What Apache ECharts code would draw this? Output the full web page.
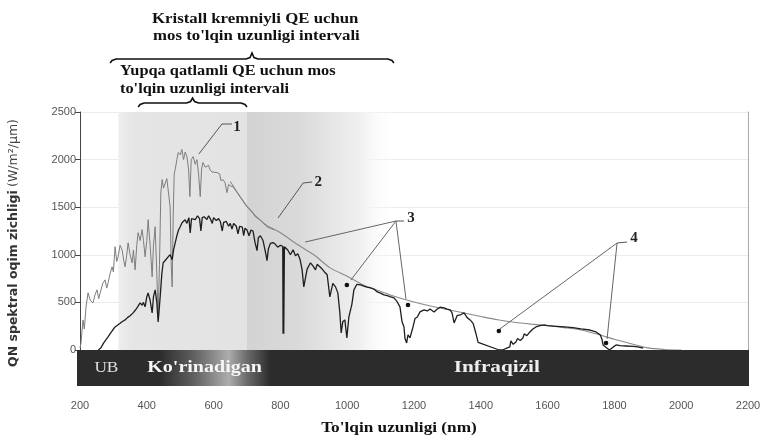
<!DOCTYPE html>
<html>
<head>
<meta charset="utf-8">
<script src="https://cdn.jsdelivr.net/npm/echarts@6/dist/echarts.min.js"></script>
<style>
html,body{margin:0;padding:0;background:#fff;}
#c{width:764px;height:438px;}
</style>
</head>
<body>
<div id="c"></div>
<script>
// ---- tick labels ----
const xTicks = [200,400,600,800,1000,1200,1400,1600,1800,2000,2200];
const yTicks = [0,500,1000,1500,2000,2500];

// ---- curve 1: extraterrestrial spectrum (wavelength nm, W/m2/um) ----
const am0Nm  = [200,203,209,213,218,224,231,239,245,251,256,260,268,275,280,284,290,296,300,305,310,314,320,326,331,335,340,344,350,356,360,365,370,374,380,386,390,395,400,404,410,416,420,425,430,434,438,442,446,450,455,460,464,470,473,476,479,482,485,490,494,500,505,510,515,520,525,529,533,539,545,550,555,560,564,568,575,580,585,589,595,600,610,618,622,628,634,640,645,652,658,665,672,679,686,693,700,710,718,725,730,739,750,760,780];
const am0Val = [20,74,316,220,450,600,520,495,580,632,540,558,700,737,650,705,800,874,820,1085,930,979,1100,1053,940,874,1000,1126,1000,916,1050,842,1100,1232,1150,1264,1150,979,1150,1369,1100,768,1100,1295,800,347,900,1650,1790,1700,1716,1800,1790,1500,900,663,1400,1850,1895,2000,2074,2050,2106,2000,2080,2032,1900,1611,2000,2032,1950,2000,1850,1611,1900,1969,1920,1900,1940,1895,1870,1880,1864,1850,1780,1790,1760,1653,1740,1720,1716,1680,1650,1611,1580,1540,1506,1470,1443,1400,1380,1369,1330,1295,1262];

// ---- curve 2: smooth envelope ----
const bbNm  = [650,700,750,800,850,900,950,1000,1050,1100,1150,1200,1250,1300,1350,1400,1450,1500,1550,1600,1650,1700,1750,1800,1850,1900,1950,2000];
const bbVal = [1770,1508,1330,1232,1110,1000,860,775,680,615,555,505,462,425,388,352,318,292,272,255,235,210,165,112,66,22,6,0];

// ---- curve 3: terrestrial spectrum ----
const am15Nm  = [255,262,270,278,284,292,298,305,312,320,327,335,342,350,359,366,372,380,386,390,395,400,404,410,416,420,425,430,434,437,440,445,449,455,460,464,470,476,480,485,490,495,500,506,510,515,520,526,530,534,538,545,552,558,562,566,572,580,585,590,596,600,608,615,620,626,630,638,645,650,655,660,668,673,678,686,690,694,700,706,712,718,724,730,734,740,748,752,757,760,764,770,778,785,792,800,805,807,808,809,810,812,815,822,830,838,845,852,859,865,870,880,890,898,905,910,918,925,932,940,943,948,957,965,972,978,982,987,993,999,1005,1014,1020,1029,1040,1050,1059,1070,1080,1090,1098,1110,1120,1128,1140,1149,1158,1164,1170,1173,1178,1182,1188,1197,1203,1210,1218,1230,1240,1248,1260,1270,1278,1290,1299,1308,1314,1320,1329,1338,1350,1359,1368,1377,1385,1392,1455,1465,1478,1487,1490,1497,1505,1510,1518,1526,1530,1538,1547,1556,1565,1577,1590,1600,1628,1650,1676,1700,1727,1745,1751,1758,1763,1766,1785,1790,1796,1805,1817,1835,1856,1870,1886];
const am15Val = [0,20,70,110,137,180,210,242,260,280,300,316,340,360,390,420,450,495,470,500,453,560,600,520,390,560,632,500,295,420,558,800,916,940,960,979,1000,948,1050,1126,1200,1260,1295,1340,1320,1369,1330,1390,1230,1380,1400,1370,1410,1380,1250,1390,1400,1370,1410,1380,1330,1390,1360,1380,1350,1250,1340,1350,1300,1330,1270,1330,1300,1220,1300,1290,1200,1280,1260,1200,1260,1250,1130,1044,1180,1200,1150,1150,1000,938,1060,1120,1129,1110,1080,1100,1080,1090,170,1085,170,1085,1070,1050,1000,1053,990,1010,950,842,663,850,916,880,842,900,874,850,820,790,790,558,700,663,600,390,179,300,316,127,347,480,632,690,684,670,660,653,640,610,600,579,570,560,547,510,453,300,242,120,74,160,127,242,330,347,400,421,410,430,400,430,450,442,430,421,390,284,360,368,390,340,316,280,179,80,0,0,20,32,95,60,84,120,100,126,169,150,190,220,242,255,263,255,248,242,235,221,210,190,175,158,110,53,0,0,30,53,45,42,38,32,20,0];

// ---- region bounds (nm) ----
const visibleRange = [315, 700];
const irShadeRange = [700, 1150];
const thinFilmRange = [374, 700];
const crystalRange = [290, 1140];
const bandGlowRange = [440, 770];

const pairs = (xs, ys) => xs.map((x, i) => [x, ys[i]]);

const chart = echarts.init(document.getElementById('c'), null, {renderer: 'canvas'});
const serif = "'Liberation Serif', 'DejaVu Serif', serif";
const sans = "'Liberation Sans', Arial, sans-serif";

chart.setOption({
  animation: false,
  backgroundColor: '#ffffff',
  grid: {left: 80, right: 16, top: 112, bottom: 88, containLabel: false},
  xAxis: [
    {type: 'value', min: 200, max: 2200, interval: 200, position: 'bottom', offset: 36,
     axisLine: {show: false},
     axisTick: {show: true, length: 6, lineStyle: {color: '#777'}},
     axisLabel: {margin: 14, color: '#555', fontSize: 11, fontFamily: sans,
                 formatter: v => xTicks.includes(v) ? String(v) : ''},
     splitLine: {show: false}},
    {type: 'value', min: 200, max: 2200, position: 'top',
     axisLine: {show: true, lineStyle: {color: '#9a9a9a', type: 'dotted', width: 1.2}},
     axisTick: {show: false}, axisLabel: {show: false}, splitLine: {show: false}}
  ],
  yAxis: [
    {type: 'value', min: 0, max: 2500, interval: 500,
     axisLine: {show: true, lineStyle: {color: '#444'}},
     axisTick: {show: true, length: 5, lineStyle: {color: '#444'}},
     axisLabel: {margin: 4, color: '#555', fontSize: 11, fontFamily: sans,
                 formatter: v => yTicks.includes(v) ? String(v) : ''},
     splitLine: {show: true, lineStyle: {color: '#ececec'}}},
    {type: 'value', min: 0, max: 2500, position: 'right',
     axisLine: {show: true, lineStyle: {color: '#aaaaaa'}},
     axisTick: {show: false}, axisLabel: {show: false}, splitLine: {show: false}}
  ],
  series: [
    {name: '1', type: 'line', data: pairs(am0Nm, am0Val), showSymbol: false, symbol: 'none',
     lineStyle: {color: '#7d7d7d', width: 1}, z: 3,
     markArea: {silent: true, data: [
       [{xAxis: visibleRange[0], itemStyle: {color: {type: 'linear', x: 0, y: 0, x2: 1, y2: 0,
          colorStops: [{offset: 0, color: '#eeeeee'}, {offset: 0.12, color: '#e5e5e5'}, {offset: 1, color: '#e3e3e3'}]}}},
        {xAxis: visibleRange[1]}],
       [{xAxis: irShadeRange[0], itemStyle: {color: {type: 'linear', x: 0, y: 0, x2: 1, y2: 0,
          colorStops: [{offset: 0, color: '#d3d3d3'}, {offset: 0.35, color: '#dadada'}, {offset: 0.75, color: '#f0f0f0'}, {offset: 1, color: 'rgba(255,255,255,0)'}]}}},
        {xAxis: irShadeRange[1]}]
     ]}},
    {name: '2', type: 'line', data: pairs(bbNm, bbVal), showSymbol: false, symbol: 'none', smooth: 0.3,
     lineStyle: {color: '#8a8a8a', width: 1.1}, z: 2},
    {name: '3', type: 'line', data: pairs(am15Nm, am15Val), showSymbol: false, symbol: 'none',
     lineStyle: {color: '#1e1e1e', width: 1.3}, z: 4}
  ]
});

const P = (nm, v) => chart.convertToPixel({seriesIndex: 0}, [nm, v]);

// annotation anchors in data units
const ann = [
  {label: '1', text: [670, 2342], path: [[655, 2374], [625, 2374], [556, 2059]], dots: []},
  {label: '2', text: [913, 1765], path: [[895, 1765], [868, 1754], [793, 1387]], dots: []},
  {label: '3', text: [1191, 1387], path: [[1170, 1355], [1146, 1355]], rays: [[874, 1134], [1011, 735], [1176, 536]], dots: [[999, 683], [1182, 473]]},
  {label: '4', text: [1859, 1176], path: [[1838, 1134], [1808, 1124]], rays: [[1457, 221], [1778, 116]], dots: [[1454, 200], [1775, 74]]}
];

const g = [];
const base = P(200, 0), end = P(2200, 0);
const bandH = 36;
const gx = nm => P(nm, 0)[0];
const bx0 = base[0] - 3, bx1 = end[0] + 1;
// dark spectral band
g.push({type: 'rect', shape: {x: bx0, y: base[1], width: bx1 - bx0, height: bandH}, z: 50, style: {fill: '#2c2c2c'}});
// lighter glow over the visible part of the band
const gl0 = gx(bandGlowRange[0]), gl1 = gx(bandGlowRange[1]);
g.push({type: 'rect', shape: {x: gl0, y: base[1], width: gl1 - gl0, height: bandH}, z: 50.5,
  style: {fill: {type: 'linear', x: 0, y: 0, x2: 1, y2: 0, colorStops: [
    {offset: 0, color: 'rgba(190,190,190,0)'}, {offset: 0.3, color: 'rgba(190,190,190,0.35)'},
    {offset: 0.62, color: 'rgba(195,195,195,0.85)'}, {offset: 0.8, color: 'rgba(190,190,190,0.4)'},
    {offset: 1, color: 'rgba(190,190,190,0)'}]}}});
const bandY = base[1] + bandH / 2;
g.push({type: 'text', x: gx(279), y: bandY, z: 51, scaleX: 1.15, style: {text: 'UB', fill: '#e0e0e0', font: "15px " + serif, align: 'center', verticalAlign: 'middle'}});
g.push({type: 'text', x: gx(573), y: bandY, z: 51, scaleX: 1.18, style: {text: "Ko'rinadigan", fill: '#f6f6f6', font: "bold 17px " + serif, align: 'center', verticalAlign: 'middle'}});
g.push({type: 'text', x: gx(1448), y: bandY, z: 51, scaleX: 1.25, style: {text: 'Infraqizil', fill: '#eeeeee', font: "bold 17px " + serif, align: 'center', verticalAlign: 'middle'}});

// annotations
ann.forEach(a => {
  const t = P(a.text[0], a.text[1]);
  g.push({type: 'text', x: t[0], y: t[1], z: 60, style: {text: a.label, fill: '#222', font: "bold 15px " + serif, align: 'center', verticalAlign: 'middle'}});
  g.push({type: 'polyline', z: 60, shape: {points: a.path.map(p => P(p[0], p[1]))}, style: {stroke: '#555', lineWidth: 1, fill: null}});
  const v = a.path[a.path.length - 1];
  (a.rays || []).forEach(r => {
    const p1 = P(v[0], v[1]), p2 = P(r[0], r[1]);
    g.push({type: 'line', z: 60, shape: {x1: p1[0], y1: p1[1], x2: p2[0], y2: p2[1]}, style: {stroke: '#666', lineWidth: 1}});
  });
  a.dots.forEach(d => {
    const q = P(d[0], d[1]);
    g.push({type: 'circle', z: 61, shape: {cx: q[0], cy: q[1], r: 2.3}, style: {fill: '#111'}});
  });
});

// braces above the plot
function brace(nm1, nm2, y, tip) {
  const x1 = gx(nm1), x2 = gx(nm2), xc = (x1 + x2) / 2;
  const pts = [[x1, y + 4], [x1 + 2, y + 1.5], [x1 + 6, y], [xc - 6, y], [xc - 2, y - 1.5], [xc, y - tip],
               [xc + 2, y - 1.5], [xc + 6, y], [x2 - 6, y], [x2 - 2, y + 1.5], [x2, y + 4]];
  return {type: 'polyline', z: 60, shape: {points: pts}, style: {stroke: '#111', lineWidth: 1.6, fill: null}};
}
g.push(brace(crystalRange[0], crystalRange[1], 59, 6));
g.push(brace(thinFilmRange[0], thinFilmRange[1], 103, 5));

const topFont = "bold 15px " + serif;
const topText = (x, y, s, sx) => ({type: 'text', x: x, y: y, scaleX: sx, style: {text: s, fill: '#111', font: topFont, verticalAlign: 'middle'}});
g.push(topText(152, 19, 'Kristall kremniyli QE uchun', 1.12));
g.push(topText(153, 36, "mos to'lqin uzunligi intervali", 1.12));
g.push(topText(120, 71, 'Yupqa qatlamli QE uchun mos', 1.09));
g.push(topText(120, 89, "to'lqin uzunligi intervali", 1.09));

// axis titles
g.push({type: 'text', x: 399, y: 428, scaleX: 1.15, style: {text: "To'lqin uzunligi (nm)", fill: '#111', font: "bold 15px " + serif, align: 'center', verticalAlign: 'middle'}});
g.push({type: 'text', x: 14, y: 243, rotation: Math.PI / 2, style: {
  text: '{b|QN spektral oqim zichligi} {n|(W/m²/µm)}', align: 'center', verticalAlign: 'middle',
  rich: {b: {font: "bold 12.5px 'DejaVu Sans', sans-serif", fill: '#333'}, n: {font: "12.5px 'DejaVu Sans', sans-serif", fill: '#444'}}}});

chart.setOption({graphic: g});
</script>
</body>
</html>
